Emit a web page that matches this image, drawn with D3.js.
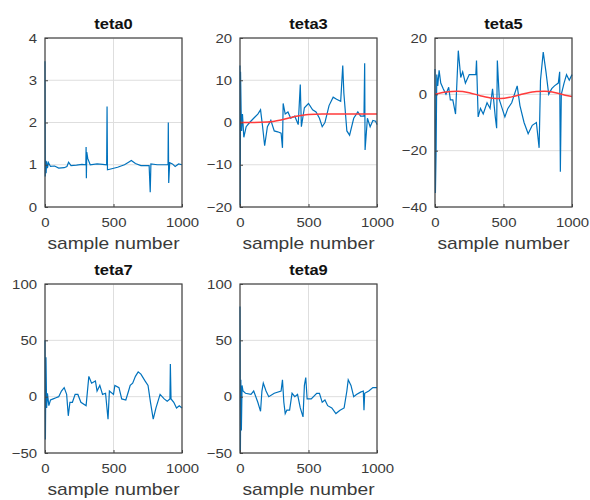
<!DOCTYPE html>
<html lang="en">
<head>
<meta charset="UTF-8">
<title>teta estimates</title>
<script src="https://d3js.org/d3.v7.min.js"></script>
<style>
  body { margin: 0; background: #fff; }
  .tick text { font-family: "Liberation Sans", Arial, sans-serif; font-size: 13px; fill: #3a3a3a; }
  .title { font-family: "Liberation Sans", Arial, sans-serif; font-size: 15px; font-weight: bold; fill: #111; }
  .xlabel { font-family: "Liberation Sans", Arial, sans-serif; font-size: 16px; fill: #3a3a3a; }
</style>
</head>
<body>
<div id="chart"></div>
<script>
// sample number vs. estimate
const teta0 = [[0,3.45],[2,0.72],[5,1.1],[8,0.8],[12,1.08],[18,0.92],[25,1.05],[40,0.96],[70,0.97],[100,0.92],[140,0.93],[160,0.96],[172,1.06],[190,0.98],[230,0.99],[270,1.01],[298,1.0],[300,1.42],[302,0.68],[305,1.3],[312,1.15],[330,1.0],[380,1.02],[420,1.01],[450,1.0],[453,2.38],[456,0.88],[480,0.9],[530,0.94],[580,1.0],[610,1.06],[630,1.1],[660,1.03],[700,0.98],[760,0.98],[768,0.35],[773,1.02],[820,1.0],[880,1.0],[898,1.0],[900,2.0],[903,0.57],[910,1.05],[930,1.02],[950,0.96],[975,1.02],[1000,1.0]];

const teta3 = [[0,13.5],[2,-19.5],[4,12],[8,3],[12,-2],[18,2],[28,-3.5],[45,-1],[70,0],[100,1],[130,2],[150,3],[165,-1],[180,-5.5],[200,-1],[225,0.5],[250,-2],[275,-2.2],[300,-2.5],[310,-6],[315,4.5],[330,2],[350,2.5],[370,1],[400,1.5],[425,-0.5],[440,9],[448,-1],[470,3.5],[500,4.5],[530,3],[555,2.5],[580,1],[600,-1],[620,0],[650,4],[680,6],[705,5.5],[735,5],[750,13.5],[758,7],[780,-2],[800,-3],[830,1],[860,2.5],[880,1.5],[905,1.5],[910,14],[913,-6.5],[930,1],[950,-1],[970,0.5],[990,0.3],[1000,-0.5]];
const teta3ref = [[0,0],[100,0],[200,0.1],[300,0.6],[400,1.4],[500,1.9],[600,2.0],[800,2.0],[1000,2.0]];

const teta5 = [[0,9],[3,-35],[8,-20],[13,7],[20,3],[30,8.5],[42,4],[60,2],[80,0],[100,2.5],[112,-2],[130,-2],[150,-7],[170,15.5],[188,6],[202,8],[222,4],[250,7],[298,7],[303,12],[315,-8],[332,-5],[352,-7],[380,-3],[402,-5],[420,2],[440,-8],[450,-12],[455,12],[470,-2],[490,-5],[510,-8],[532,-5],[560,-3],[600,3],[620,-4],[650,-10],[680,-14],[710,-11],[740,-10],[760,-19],[770,5],[790,15],[810,8],[830,0],[852,2],[872,3],[900,4],[910,8],[915,-27.5],[922,0],[942,4],[960,7],[980,5],[1000,7]];
const teta5ref = [[0,0],[80,0.8],[160,1.1],[250,0.6],[330,-0.5],[420,-1.4],[480,-1.5],[560,-0.9],[650,0.2],[740,1.0],[800,1.1],[880,0.6],[950,-0.3],[1000,-0.8]];

const teta7 = [[0,50],[3,-38],[7,35],[12,-10],[18,3],[28,-8],[40,-3],[60,-2],[80,-1],[100,0],[120,5],[140,8],[158,2],[170,-17],[182,-5],[200,-5],[220,2],[240,2],[262,-5],[300,-8],[320,18],[340,12],[368,14],[380,5],[400,10],[420,2],[442,3],[460,-20],[470,5],[500,2],[510,10],[540,8],[560,-2],[590,-3],[610,5],[622,10],[640,12],[660,18],[680,22],[700,20],[730,14],[752,10],[770,-5],[790,-20],[810,-10],[840,2],[870,-2],[892,-4],[912,-2],[915,29],[920,-2],[940,-5],[960,-10],[980,-8],[1000,-10]];

const teta9 = [[0,80],[3,-48],[6,15],[10,-30],[15,10],[22,5],[40,3],[80,2],[100,5],[130,-5],[150,-13],[160,5],[170,12],[190,5],[210,0],[250,3],[300,5],[310,15],[320,-5],[330,-15],[342,-12],[362,-12],[380,3],[400,0],[420,2],[440,-10],[460,-18],[470,10],[480,17],[490,-2],[520,-2],[560,3],[580,3],[600,-5],[620,-3],[640,-8],[670,-10],[700,-15],[730,-12],[760,-10],[780,5],[790,15],[810,10],[830,0],[850,2],[880,4],[900,5],[905,-12],[910,3],[940,5],[970,8],[1000,8]];

const titles = ["teta0", "teta3", "teta5", "teta7", "teta9"];
const yDomains = [[0, 4], [-20, 20], [-40, 20], [-50, 100], [-50, 100]];
const yTicks = [[0, 1, 2, 3, 4], [-20, -10, 0, 10, 20], [-40, -20, 0, 20], [-50, 0, 50, 100], [-50, 0, 50, 100]];
const xTicks = [0, 500, 1000];
const series = [teta0, teta3, teta5, teta7, teta9];
const refs = [null, teta3ref, teta5ref, null, null];

const W = 590, H = 500;
const pw = 137, ph = 169;
const lefts = [45, 240, 435];
const tops = [38, 284];

const svg = d3.select("#chart").append("svg")
    .attr("width", W)
    .attr("height", H);

svg.append("rect").attr("width", W).attr("height", H).attr("fill", "#fff");

// the picture's text is a bit wider than tall: stretch around its anchor x
function widen(sel, sx) {
    sel.each(function () {
        const t = d3.select(this);
        const x0 = +t.attr("x") || 0;
        t.attr("x", x0 / sx).attr("transform", `scale(${sx},1)`);
    });
}

titles.forEach((t, i) => {
    const g = svg.append("g")
        .attr("transform", `translate(${lefts[i % 3]},${tops[Math.floor(i / 3)]})`);

    const x = d3.scaleLinear().domain([0, 1000]).range([0, pw]);
    const y = d3.scaleLinear().domain(yDomains[i]).range([ph, 0]);

    // grid
    g.append("g").selectAll("line").data(xTicks).join("line")
        .attr("x1", d => x(d)).attr("x2", d => x(d))
        .attr("y1", 0).attr("y2", ph)
        .attr("stroke", "#dedede");
    g.append("g").selectAll("line").data(yTicks[i]).join("line")
        .attr("x1", 0).attr("x2", pw)
        .attr("y1", d => y(d)).attr("y2", d => y(d))
        .attr("stroke", "#dedede");

    const line = d3.line().x(d => x(d[0])).y(d => y(d[1]));

    g.append("path")
        .datum(series[i])
        .attr("fill", "none")
        .attr("stroke", "#0072BD")
        .attr("stroke-width", 1.2)
        .attr("d", line);

    if (refs[i]) {
        g.append("path")
            .datum(refs[i])
            .attr("fill", "none")
            .attr("stroke", "#ff3b3b")
            .attr("stroke-width", 1.5)
            .attr("d", line.curve(d3.curveMonotoneX));
    }

    // axes (ticks pointing inward like matlab)
    const fmt = d3.format("d");
    const xa = g.append("g")
        .attr("transform", `translate(0,${ph})`)
        .call(d3.axisBottom(x).tickValues(xTicks).tickFormat(fmt).tickSize(-3).tickPadding(11));
    const ya = g.append("g")
        .call(d3.axisLeft(y).tickValues(yTicks[i]).tickFormat(fmt).tickSize(-3).tickPadding(8));
    [xa, ya].forEach(a => {
        a.select(".domain").remove();
        a.selectAll(".tick line").attr("stroke", "#444");
        widen(a.selectAll(".tick text"), 1.15);
    });

    g.append("rect")
        .attr("width", pw).attr("height", ph)
        .attr("fill", "none")
        .attr("stroke", "#444")
        .attr("stroke-width", 1.2);

    g.append("text")
        .attr("class", "title")
        .attr("x", pw / 2).attr("y", -9)
        .attr("text-anchor", "middle")
        .text(t)
        .call(widen, 1.1);

    g.append("text")
        .attr("class", "xlabel")
        .attr("x", pw / 2).attr("y", ph + 42)
        .attr("text-anchor", "middle")
        .text("sample number")
        .call(widen, 1.2);
});
</script>
</body>
</html>
